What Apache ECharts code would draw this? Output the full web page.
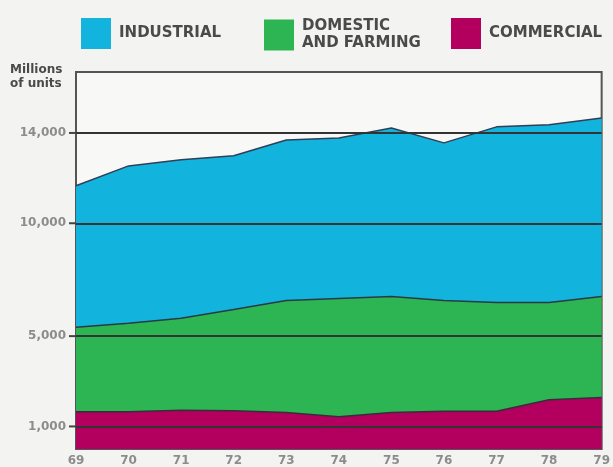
<!DOCTYPE html>
<html>
<head>
<meta charset="utf-8">
<script src="https://cdn.jsdelivr.net/npm/echarts@6/dist/echarts.min.js"></script>
<style>
  html, body { margin: 0; padding: 0; background: #f3f3f1; }
  #main { width: 613px; height: 467px; }
</style>
</head>
<body>
<div id="main"></div>
<script>
// years on the x axis
var years = ['69', '70', '71', '72', '73', '74', '75', '76', '77', '78', '79'];
// millions of units, stacked from the bottom up
var commercial = [1650, 1650, 1720, 1690, 1620, 1430, 1620, 1670, 1670, 2180, 2280];
var domestic = [3740, 3920, 4070, 4490, 4960, 5240, 5140, 4910, 4820, 4310, 4480];
var industrial = [6270, 6970, 7020, 6810, 7110, 7110, 7460, 6980, 7780, 7870, 7900];
// labelled grid values
var yTicks = [1000, 5000, 10000, 14000];

var names = ['INDUSTRIAL', 'DOMESTIC\nAND FARMING', 'COMMERCIAL'];
var colors = ['#12b4de', '#2db453', '#b3005f'];

var myChart = echarts.init(document.getElementById('main'));

function legendAt(name, left, top) {
    return {
        data: [name],
        left: left,
        top: top,
        icon: 'rect',
        itemWidth: 30,
        itemHeight: 31,
        selectedMode: false,
        itemStyle: { borderWidth: 0 },
        textStyle: {
            fontFamily: 'DejaVu Sans',
            fontWeight: 'bold',
            fontSize: 15,
            lineHeight: 17,
            color: '#4a4a4a',
            padding: [0, 0, 0, 3]
        }
    };
}

var option = {
    backgroundColor: '#f3f3f1',
    animation: false,
    legend: [
        legendAt(names[0], 76, 13),
        legendAt(names[1], 259, 13),
        legendAt(names[2], 446, 13)
    ],
    graphic: [{
        type: 'text',
        left: 10,
        top: 63,
        style: {
            text: 'Millions\nof units',
            fontFamily: 'DejaVu Sans',
            fontWeight: 'bold',
            fontSize: 12,
            lineHeight: 14,
            fill: '#4a4a4a',
            textAlign: 'left'
        }
    }],
    grid: {
        left: 76,
        right: 9,
        top: 72,
        bottom: 17,
        show: true,
        backgroundColor: '#f8f8f6',
        borderColor: '#555',
        borderWidth: 2
    },
    xAxis: {
        type: 'category',
        boundaryGap: false,
        data: years,
        axisLine: { show: false },
        axisTick: { show: false },
        axisLabel: {
            margin: 6,
            color: '#8c8c8c',
            fontFamily: 'DejaVu Sans',
            fontWeight: 'bold',
            fontSize: 12
        },
        splitLine: { show: false }
    },
    yAxis: {
        type: 'value',
        min: 0,
        max: 16700,
        axisLine: { show: true, lineStyle: { color: '#555', width: 2 } },
        axisTick: { show: false },
        axisLabel: {
            customValues: yTicks,
            margin: 0,
            // label text followed by a short dash that reaches the axis
            formatter: function (v) { return '{v|' + v.toLocaleString('en-US') + '}{t|}'; },
            rich: {
                v: {
                    color: '#8c8c8c',
                    fontFamily: 'DejaVu Sans',
                    fontWeight: 'bold',
                    fontSize: 12,
                    padding: [0, 3, 0, 0]
                },
                t: {
                    width: 7,
                    height: 2,
                    backgroundColor: '#444'
                }
            }
        },
        splitLine: { show: false }
    },
    series: [
        {
            name: names[2],
            type: 'line',
            stack: 'total',
            data: commercial,
            symbol: 'none',
            itemStyle: { color: colors[2] },
            lineStyle: { color: '#3a2a3a', width: 1.5 },
            areaStyle: { color: colors[2], opacity: 1 }
        },
        {
            name: names[1],
            type: 'line',
            stack: 'total',
            data: domestic,
            symbol: 'none',
            itemStyle: { color: colors[1] },
            lineStyle: { color: '#2a3a44', width: 1.5 },
            areaStyle: { color: colors[1], opacity: 1 }
        },
        {
            name: names[0],
            type: 'line',
            stack: 'total',
            data: industrial,
            symbol: 'none',
            itemStyle: { color: colors[0] },
            lineStyle: { color: '#2f3f55', width: 1.5 },
            areaStyle: { color: colors[0], opacity: 1 },
            // horizontal rules drawn over the areas
            markLine: {
                silent: true,
                symbol: 'none',
                label: { show: false },
                lineStyle: { color: '#333', width: 2, type: 'solid' },
                data: yTicks.map(function (v) { return { yAxis: v }; })
            }
        }
    ]
};

myChart.setOption(option);
</script>
</body>
</html>
